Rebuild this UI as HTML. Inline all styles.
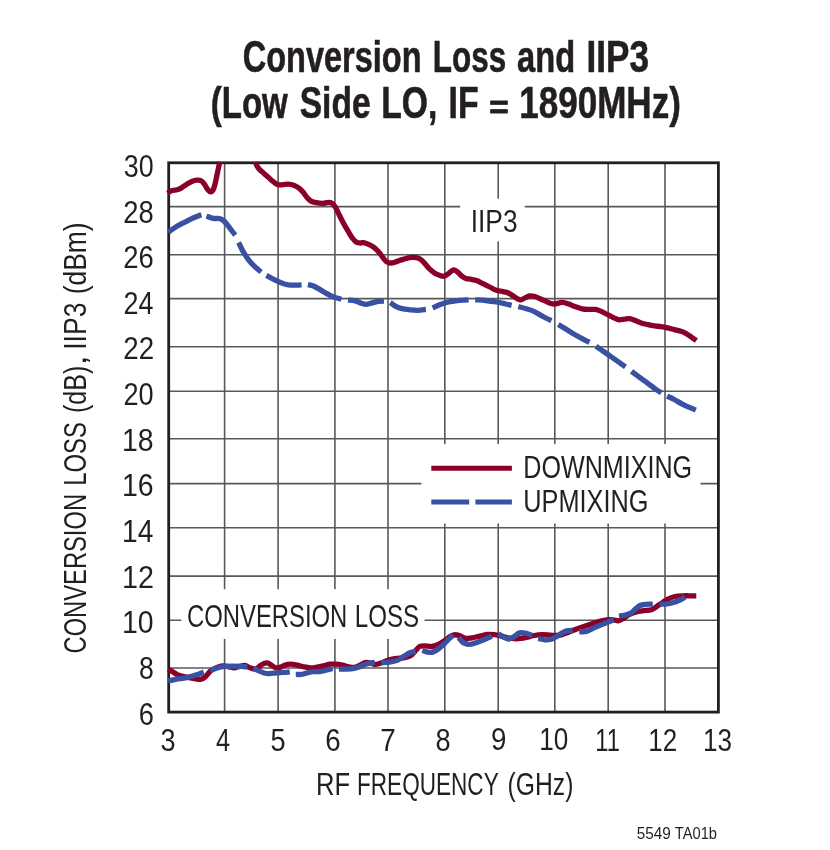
<!DOCTYPE html>
<html lang="en"><head><meta charset="utf-8"><title>Conversion Loss and IIP3</title>
<style>html,body{margin:0;padding:0;background:#fff}body{width:830px;height:850px;overflow:hidden}svg{display:block}text{font-family:"Liberation Sans",sans-serif;fill:#231f20}</style>
</head><body>
<svg width="830" height="850" viewBox="0 0 830 850">
<rect id="bg" width="830" height="850" fill="#fff"/>
<defs><clipPath id="plotclip"><rect x="164.3" y="161.4" width="552.9" height="552.1"/></clipPath></defs>
<g id="grid" stroke="#58595b" stroke-width="1.6" fill="none">
<path d="M224.6 162.8V712.1M278.1 162.8V712.1M334.9 162.8V712.1M388 162.8V712.1M444.8 162.8V712.1M498.2 162.8V712.1M554.8 162.8V712.1M608.2 162.8V712.1M665 162.8V712.1M168.7 206.6H718.4M168.7 254.7H718.4M168.7 298.6H718.4M168.7 346.8H718.4M168.7 391.2H718.4M168.7 438.8H718.4M168.7 483.6H718.4M168.7 527.7H718.4M168.7 576.1H718.4M168.7 620.3H718.4M168.7 668H718.4"/>
</g>
<g id="masks" fill="#fff">
<rect x="460.2" y="198.7" width="64.6" height="42.7"/>
<rect x="421.5" y="444.1" width="279" height="79.4"/>
<rect x="181.3" y="589.2" width="243.2" height="49.7"/>
</g>
<rect id="frame" x="168.7" y="162.8" width="549.7" height="549.3" fill="none" stroke="#231f20" stroke-width="2.8"/>
<g id="curves" fill="none" stroke-width="5.3" stroke-linejoin="round" clip-path="url(#plotclip)">
<path id="r1" stroke="#8b0029" d="M167.6 193.3C168.22 192.88 169.7 191.4 171.3 190.8C172.9 190.2 175.55 190.15 177.2 189.7C178.85 189.25 179.65 188.98 181.2 188.1C182.75 187.22 184.73 185.5 186.5 184.4C188.27 183.3 190.03 182.2 191.8 181.5C193.57 180.8 195.55 180.32 197.1 180.2C198.65 180.08 199.88 180.13 201.1 180.8C202.32 181.47 203.3 182.75 204.4 184.2C205.5 185.65 206.67 188.23 207.7 189.5C208.73 190.77 209.72 191.7 210.6 191.8C211.48 191.9 212.27 191.37 213 190.1C213.73 188.83 214.33 186.73 215 184.2C215.67 181.67 216.37 177.85 217 174.9C217.63 171.95 218.32 168.73 218.8 166.5C219.28 164.27 219.72 162.33 219.9 161.5M255.4 162C255.7 162.73 256.4 165.05 257.2 166.4C258 167.75 259.08 168.93 260.2 170.1C261.32 171.27 262.58 172.23 263.9 173.4C265.22 174.57 266.7 175.85 268.1 177.1C269.5 178.35 271 179.8 272.3 180.9C273.6 182 274.8 183.03 275.9 183.7C277 184.37 277.7 184.75 278.9 184.9C280.1 185.05 281.52 184.73 283.1 184.6C284.68 184.47 286.63 184 288.4 184.1C290.17 184.2 291.93 184.53 293.7 185.2C295.47 185.87 297.45 186.95 299 188.1C300.55 189.25 301.67 190.55 303 192.1C304.33 193.65 305.67 195.9 307 197.4C308.33 198.9 309.45 200.22 311 201.1C312.55 201.98 314.32 202.32 316.3 202.7C318.28 203.08 320.92 203.45 322.9 203.4C324.88 203.35 326.65 202.4 328.2 202.4C329.75 202.4 330.98 202.57 332.2 203.4C333.42 204.23 334.4 205.63 335.5 207.4C336.6 209.17 337.58 211.58 338.8 214C340.02 216.42 341.25 219.03 342.8 221.9C344.35 224.77 346.45 228.43 348.1 231.2C349.75 233.97 351.3 236.67 352.7 238.5C354.1 240.33 355.28 241.45 356.5 242.2C357.72 242.95 358.87 242.92 360 243C361.13 243.08 361.87 242.47 363.3 242.7C364.73 242.93 366.83 243.62 368.6 244.4C370.37 245.18 372.25 246.18 373.9 247.4C375.55 248.62 377.07 250.1 378.5 251.7C379.93 253.3 381.18 255.35 382.5 257C383.82 258.65 384.97 260.6 386.4 261.6C387.83 262.6 389.43 263 391.1 263C392.77 263 394.42 262.2 396.4 261.6C398.38 261 400.8 260.05 403 259.4C405.2 258.75 407.38 257.98 409.6 257.7C411.82 257.42 414.42 257.38 416.3 257.7C418.18 258.02 419.47 258.62 420.9 259.6C422.33 260.58 423.47 262.05 424.9 263.6C426.33 265.15 427.85 267.3 429.5 268.9C431.15 270.5 433.03 272.1 434.8 273.2C436.57 274.3 438.55 275 440.1 275.5C441.65 276 442.77 276.45 444.1 276.2C445.43 275.95 446.87 274.87 448.1 274C449.33 273.13 450.43 271.67 451.5 271C452.57 270.33 453.42 269.77 454.5 270C455.58 270.23 456.77 271.38 458 272.4C459.23 273.42 460.58 275.1 461.9 276.1C463.22 277.1 464.35 277.87 465.9 278.4C467.45 278.93 469.43 278.93 471.2 279.3C472.97 279.67 474.52 279.87 476.5 280.6C478.48 281.33 480.88 282.63 483.1 283.7C485.32 284.77 487.58 285.9 489.8 287C492.02 288.1 494.2 289.53 496.4 290.3C498.6 291.07 501.02 291.15 503 291.6C504.98 292.05 506.53 292.22 508.3 293C510.07 293.78 512.05 295.32 513.6 296.3C515.15 297.28 516.38 298.32 517.6 298.9C518.82 299.48 519.58 300.02 520.9 299.8C522.22 299.58 524.07 298.25 525.5 297.6C526.93 296.95 528.05 296.12 529.5 295.9C530.95 295.68 532.43 295.83 534.2 296.3C535.97 296.77 538 297.78 540.1 298.7C542.2 299.62 545.1 301.05 546.8 301.8C548.5 302.55 549.05 302.82 550.3 303.2C551.55 303.58 552.75 304.17 554.3 304.1C555.85 304.03 558.05 303.07 559.6 302.8C561.15 302.53 562.05 302.28 563.6 302.5C565.15 302.72 566.92 303.38 568.9 304.1C570.88 304.82 573.3 306.02 575.5 306.8C577.7 307.58 579.9 308.37 582.1 308.8C584.3 309.23 586.48 309.3 588.7 309.4C590.92 309.5 593.4 309.12 595.4 309.4C597.4 309.68 598.72 310.25 600.7 311.1C602.68 311.95 605.1 313.38 607.3 314.5C609.5 315.62 611.92 316.92 613.9 317.8C615.88 318.68 617.43 319.58 619.2 319.8C620.97 320.02 622.72 319.3 624.5 319.1C626.28 318.9 628.22 318.4 629.9 318.6C631.58 318.8 632.72 319.58 634.6 320.3C636.48 321.02 639 322.18 641.2 322.9C643.4 323.62 645.58 324.1 647.8 324.6C650.02 325.1 652.28 325.57 654.5 325.9C656.72 326.23 658.9 326.27 661.1 326.6C663.3 326.93 665.5 327.4 667.7 327.9C669.9 328.4 672.32 329.1 674.3 329.6C676.28 330.1 677.83 330.37 679.6 330.9C681.37 331.43 683.13 331.92 684.9 332.8C686.67 333.68 688.3 334.88 690.2 336.2C692.1 337.52 695.28 339.95 696.3 340.7"/>
<path id="b1" stroke="#3951a3" d="M168.3 232.2C169.13 231.6 171.37 229.87 173.3 228.6C175.23 227.33 177.7 225.82 179.9 224.6C182.1 223.38 184.3 222.4 186.5 221.3C188.7 220.2 190.88 219 193.1 218C195.32 217 198.42 215.83 199.8 215.3C201.18 214.77 201.13 214.88 201.4 214.8M206.4 216.2C206.62 216.27 206.6 216.23 207.7 216.6C208.8 216.97 211.02 218.07 213 218.4C214.98 218.73 217.83 218.23 219.6 218.6C221.37 218.97 222.27 219.5 223.6 220.6C224.93 221.7 226.27 223.55 227.6 225.2C228.93 226.85 230.32 228.83 231.6 230.5C232.88 232.17 234.68 234.42 235.3 235.2M238.6 242.5C239.38 244.05 241.63 248.92 243.3 251.8C244.97 254.68 246.73 257.37 248.6 259.8C250.47 262.23 252.42 264.37 254.5 266.4C256.58 268.43 260 271.07 261.1 272M266.4 275.4C267.62 276.07 271.15 278.13 273.7 279.4C276.25 280.67 279.27 282.08 281.7 283C284.13 283.92 285.87 284.53 288.3 284.9C290.73 285.27 294.08 285.2 296.3 285.2C298.52 285.2 300.72 284.95 301.6 284.9M307.9 284.7C308.83 284.92 311.47 285.18 313.5 286C315.53 286.82 317.88 288.33 320.1 289.6C322.32 290.87 324.58 292.38 326.8 293.6C329.02 294.82 331.82 296.2 333.4 296.9C334.98 297.6 334.97 297.4 336.3 297.8C337.63 298.2 340.55 299.05 341.4 299.3M348 300.1C349.18 300.23 352.88 300.38 355.1 300.9C357.32 301.42 359.48 302.63 361.3 303.2C363.12 303.77 364.17 304.37 366 304.3C367.83 304.23 370.2 303.28 372.3 302.8C374.4 302.32 376.65 301.68 378.6 301.4C380.55 301.12 383.1 301.15 384 301.1M390.3 302.5C391.22 303.15 393.85 305.37 395.8 306.4C397.75 307.43 399.65 308.13 402 308.7C404.35 309.27 407.28 309.53 409.9 309.8C412.52 310.07 415.03 310.35 417.7 310.3C420.37 310.25 424.53 309.63 425.9 309.5M432.6 307.9C433.77 307.38 437.12 305.75 439.6 304.8C442.08 303.85 444.88 302.85 447.5 302.2C450.12 301.55 453.22 301.2 455.3 300.9C457.38 300.6 457.78 300.58 460 300.4C462.22 300.22 467.17 299.9 468.6 299.8M475.2 299.8C476.97 299.92 482.27 300.13 485.8 300.5C489.33 300.87 493.08 301.42 496.4 302C499.72 302.58 503.17 303.45 505.7 304C508.23 304.55 510.62 305.08 511.6 305.3M518.3 306.6C519.5 306.92 523.18 307.83 525.5 308.5C527.82 309.17 529.77 309.55 532.2 310.6C534.63 311.65 537.67 313.48 540.1 314.8C542.53 316.12 544.9 317.53 546.8 318.5C548.7 319.47 550.72 320.25 551.5 320.6M558.3 324.4C559.62 325.22 563.55 327.65 566.2 329.3C568.85 330.95 571.55 332.75 574.2 334.3C576.85 335.85 579.57 337.27 582.1 338.6C584.63 339.93 588.18 341.68 589.4 342.3M596 346.3C597.22 347.13 600.75 349.53 603.3 351.3C605.85 353.07 608.65 355.05 611.3 356.9C613.95 358.75 616.83 360.73 619.2 362.4C621.57 364.07 624.45 366.15 625.5 366.9M631.5 371.4C632.9 372.43 637.18 375.62 639.9 377.6C642.62 379.58 645.15 381.35 647.8 383.3C650.45 385.25 653.53 387.72 655.8 389.3C658.07 390.88 660.47 392.22 661.4 392.8M667.1 396.1C668.3 396.67 671.77 398.17 674.3 399.5C676.83 400.83 679.87 402.82 682.3 404.1C684.73 405.38 686.65 406.2 688.9 407.2C691.15 408.2 694.65 409.62 695.8 410.1"/>
<path id="r2" stroke="#8b0029" d="M167.9 669.5C168.57 669.8 170.35 670.45 171.9 671.3C173.45 672.15 175.43 673.75 177.2 674.6C178.97 675.45 180.5 675.9 182.5 676.4C184.5 676.9 186.98 677.17 189.2 677.6C191.42 678.03 193.82 678.72 195.8 679C197.78 679.28 199.45 679.73 201.1 679.3C202.75 678.87 204.15 677.77 205.7 676.4C207.25 675.03 208.73 672.53 210.4 671.1C212.07 669.67 213.72 668.68 215.7 667.8C217.68 666.92 220.1 665.97 222.3 665.8C224.5 665.63 226.92 666.47 228.9 666.8C230.88 667.13 232.43 667.87 234.2 667.8C235.97 667.73 237.73 666.78 239.5 666.4C241.27 666.02 243.03 665.27 244.8 665.5C246.57 665.73 248.33 667.2 250.1 667.8C251.87 668.4 253.7 669.45 255.4 669.1C257.1 668.75 258.87 666.65 260.3 665.7C261.73 664.75 262.72 663.83 264 663.4C265.28 662.97 266.68 662.75 268 663.1C269.32 663.45 270.58 664.72 271.9 665.5C273.22 666.28 274.57 667.48 275.9 667.8C277.23 668.12 278.35 667.85 279.9 667.4C281.45 666.95 283.43 665.63 285.2 665.1C286.97 664.57 288.52 664.2 290.5 664.2C292.48 664.2 294.9 664.67 297.1 665.1C299.3 665.53 301.48 666.35 303.7 666.8C305.92 667.25 308.18 667.75 310.4 667.8C312.62 667.85 314.8 667.43 317 667.1C319.2 666.77 321.4 666.28 323.6 665.8C325.8 665.32 328.22 664.47 330.2 664.2C332.18 663.93 333.5 664.05 335.5 664.2C337.5 664.35 339.98 664.67 342.2 665.1C344.42 665.53 346.82 666.42 348.8 666.8C350.78 667.18 352.33 667.62 354.1 667.4C355.87 667.18 357.58 666.3 359.4 665.5C361.22 664.7 363.13 663 365 662.6C366.87 662.2 368.78 662.8 370.6 663.1C372.42 663.4 373.92 664.52 375.9 664.4C377.88 664.28 380.28 663.17 382.5 662.4C384.72 661.63 386.77 660.47 389.2 659.8C391.63 659.13 394.68 658.73 397.1 658.4C399.52 658.07 401.48 658.23 403.7 657.8C405.92 657.37 408.4 657.02 410.4 655.8C412.4 654.58 414.17 652.05 415.7 650.5C417.23 648.95 418.07 647.28 419.6 646.5C421.13 645.72 422.9 645.8 424.9 645.8C426.9 645.8 429.38 646.72 431.6 646.5C433.82 646.28 436 645.5 438.2 644.5C440.4 643.5 442.82 641.82 444.8 640.5C446.78 639.18 448.55 637.55 450.1 636.6C451.65 635.65 452.55 634.97 454.1 634.8C455.65 634.63 457.53 635 459.4 635.6C461.27 636.2 463.22 638.03 465.3 638.4C467.38 638.77 469.47 638.18 471.9 637.8C474.33 637.42 477.25 636.65 479.9 636.1C482.55 635.55 485.37 634.73 487.8 634.5C490.23 634.27 492.28 634.43 494.5 634.7C496.72 634.97 498.9 635.58 501.1 636.1C503.3 636.62 505.5 637.37 507.7 637.8C509.9 638.23 512.08 638.6 514.3 638.7C516.52 638.8 518.78 638.67 521 638.4C523.22 638.13 525.4 637.58 527.6 637.1C529.8 636.62 531.77 635.9 534.2 635.5C536.63 635.1 539.55 634.77 542.2 634.7C544.85 634.63 547.67 634.97 550.1 635.1C552.53 635.23 554.82 635.58 556.8 635.5C558.78 635.42 560.13 635.12 562 634.6C563.87 634.08 565.68 633.28 568 632.4C570.32 631.52 573.25 630.3 575.9 629.3C578.55 628.3 581.25 627.33 583.9 626.4C586.55 625.47 589.15 624.53 591.8 623.7C594.45 622.87 597.37 622.05 599.8 621.4C602.23 620.75 604.2 620.07 606.4 619.8C608.6 619.53 611.02 619.63 613 619.8C614.98 619.97 616.53 621.03 618.3 620.8C620.07 620.57 621.83 619.42 623.6 618.4C625.37 617.38 626.92 615.75 628.9 614.7C630.88 613.65 633.07 612.77 635.5 612.1C637.93 611.43 640.83 611.08 643.5 610.7C646.17 610.32 649.28 610.5 651.5 609.8C653.72 609.1 654.82 607.82 656.8 606.5C658.78 605.18 661.47 603.17 663.4 601.9C665.33 600.63 666.45 599.8 668.4 598.9C670.35 598 672.67 597.02 675.1 596.5C677.53 595.98 680.58 595.92 683 595.8C685.42 595.68 687.38 595.8 689.6 595.8C691.82 595.8 695.18 595.8 696.3 595.8"/>
<path id="b2" stroke="#3951a3" d="M168.2 681C169.48 680.72 172.85 679.85 175.9 679.3C178.95 678.75 183.18 678.4 186.5 677.7C189.82 677 192.93 676.03 195.8 675.1C198.67 674.17 202.38 672.6 203.7 672.1M210.4 670.4C211.5 670 214.58 668.67 217 668C219.42 667.33 222.25 666.72 224.9 666.4C227.55 666.08 230.25 666.1 232.9 666.1C235.55 666.1 238.42 666.23 240.8 666.4C243.18 666.57 246.13 666.98 247.2 667.1M253.4 668.4C254.4 668.85 257.2 670.25 259.4 671.1C261.6 671.95 264.28 673.17 266.6 673.5C268.92 673.83 270.65 673.28 273.3 673.1C275.95 672.92 279.75 672.57 282.5 672.4C285.25 672.23 288.58 672.15 289.8 672.1M295.8 674.4C296.68 674.4 299.33 674.62 301.1 674.4C302.87 674.18 304.42 673.55 306.4 673.1C308.38 672.65 310.57 671.98 313 671.7C315.43 671.42 318.57 671.72 321 671.4C323.43 671.08 325.67 670.3 327.6 669.8C329.53 669.3 331.77 668.63 332.6 668.4M338.9 669.2C340.1 669.18 343.57 669.23 346.1 669.1C348.63 668.97 351.67 668.85 354.1 668.4C356.53 667.95 358.62 667.13 360.7 666.4C362.78 665.67 364.25 664.67 366.6 664C368.95 663.33 373.43 662.67 374.8 662.4M381.2 662.7C382.53 662.6 386.55 662.48 389.2 662.1C391.85 661.72 394.68 661.35 397.1 660.4C399.52 659.45 401.48 657.72 403.7 656.4C405.92 655.08 408.4 653.38 410.4 652.5C412.4 651.62 414.82 651.33 415.7 651.1M422.3 650.5C423.18 650.77 425.83 651.83 427.6 652.1C429.37 652.37 431.13 652.58 432.9 652.1C434.67 651.62 436.22 650.68 438.2 649.2C440.18 647.72 442.82 645.08 444.8 643.2C446.78 641.32 448.67 639.23 450.1 637.9C451.53 636.57 452.85 635.65 453.4 635.2M458.7 637.5C459.08 638 460.12 639.58 461 640.5C461.88 641.42 462.62 642.35 464 643C465.38 643.65 467.32 644.45 469.3 644.4C471.28 644.35 473.47 643.47 475.9 642.7C478.33 641.93 481.25 640.9 483.9 639.8C486.55 638.7 490.48 636.72 491.8 636.1M498.4 633.8C499.28 634.35 501.93 636.22 503.7 637.1C505.47 637.98 507.23 639.22 509 639.1C510.77 638.98 512.53 637.43 514.3 636.4C516.07 635.37 517.6 633.4 519.6 632.9C521.6 632.4 524.2 632.97 526.3 633.4C528.4 633.83 531.22 635.15 532.2 635.5M538.2 638.4C539.3 638.63 542.6 639.68 544.8 639.8C547 639.92 549.4 639.67 551.4 639.1C553.4 638.53 555.02 637.43 556.8 636.4C558.58 635.37 560.48 633.83 562.1 632.9C563.72 631.97 564.75 631.22 566.5 630.8C568.25 630.38 571.58 630.47 572.6 630.4M579.2 631.7C580.42 631.65 583.95 632.07 586.5 631.4C589.05 630.73 591.85 628.87 594.5 627.7C597.15 626.53 599.98 625.4 602.4 624.4C604.82 623.4 607.12 622.47 609 621.7C610.88 620.93 612.92 620.12 613.7 619.8M619 616.1C620.22 615.87 624.3 615.22 626.3 614.7C628.3 614.18 629.5 613.93 631 613C632.5 612.07 633.8 610.35 635.3 609.1C636.8 607.85 638.3 606.3 640 605.5C641.7 604.7 643.37 604.52 645.5 604.3C647.63 604.08 651.58 604.22 652.8 604.2M659.5 604.2C660.77 604.13 664.73 604.08 667.1 603.8C669.47 603.52 671.48 603.17 673.7 602.5C675.92 601.83 678.52 600.68 680.4 599.8C682.28 598.92 684.23 597.63 685 597.2"/>
</g>
<g id="legend" fill="none" stroke-width="5">
<path stroke="#8b0029" d="M431.3 468.2H511.9"/>
<path stroke="#3951a3" d="M431.3 501.9H469.2M475.4 501.9H511.9"/>
</g>
<g id="texts">
<text id="t1" y="71.8" font-size="43.5" font-weight="bold" stroke="#231f20" stroke-width="0.6" stroke-linejoin="round"><tspan id="t1_0" x="242.75" textLength="178.8" lengthAdjust="spacingAndGlyphs">Conversion</tspan> <tspan id="t1_1" x="432.75" textLength="73.37" lengthAdjust="spacingAndGlyphs">Loss</tspan> <tspan id="t1_2" x="517" textLength="58.12" lengthAdjust="spacingAndGlyphs">and</tspan> <tspan id="t1_3" x="586.5" textLength="62.41" lengthAdjust="spacingAndGlyphs">IIP3</tspan></text>
<text id="t2" y="117.8" font-size="43.5" font-weight="bold" stroke="#231f20" stroke-width="0.6" stroke-linejoin="round"><tspan id="t2_0" x="210.75" textLength="77.02" lengthAdjust="spacingAndGlyphs">(Low</tspan> <tspan id="t2_1" x="299.75" textLength="70.79" lengthAdjust="spacingAndGlyphs">Side</tspan> <tspan id="t2_2" x="381.25" textLength="56.04" lengthAdjust="spacingAndGlyphs">LO,</tspan> <tspan id="t2_3" x="448.5" textLength="30.06" lengthAdjust="spacingAndGlyphs">IF</tspan></text>
<text id="t2e" y="0" font-size="43.5" transform="translate(0 117.9) scale(1 0.72)" font-weight="bold" stroke="#231f20" stroke-width="1.1" stroke-linejoin="round"><tspan id="t2e_0" x="489.25" textLength="19.45" lengthAdjust="spacingAndGlyphs">=</tspan></text>
<text id="t2n" y="117.8" font-size="43.5" font-weight="bold" stroke="#231f20" stroke-width="0.6" stroke-linejoin="round"><tspan id="t2n_0" x="519.25" textLength="161.58" lengthAdjust="spacingAndGlyphs">1890MHz)</tspan></text>
<text id="y30" y="177.2" font-size="31"><tspan id="y30_0" x="123.75" textLength="29.89" lengthAdjust="spacingAndGlyphs">30</tspan></text>
<text id="y28" y="222.8" font-size="31"><tspan id="y28_0" x="123.25" textLength="30.47" lengthAdjust="spacingAndGlyphs">28</tspan></text>
<text id="y26" y="268.4" font-size="31"><tspan id="y26_0" x="123.25" textLength="30.47" lengthAdjust="spacingAndGlyphs">26</tspan></text>
<text id="y24" y="314" font-size="31"><tspan id="y24_0" x="123.5" textLength="29.89" lengthAdjust="spacingAndGlyphs">24</tspan></text>
<text id="y22" y="359.1" font-size="31"><tspan id="y22_0" x="123.25" textLength="30.77" lengthAdjust="spacingAndGlyphs">22</tspan></text>
<text id="y20" y="405.2" font-size="31"><tspan id="y20_0" x="123.5" textLength="30.18" lengthAdjust="spacingAndGlyphs">20</tspan></text>
<text id="y18" y="450.8" font-size="31"><tspan id="y18_0" x="122" textLength="31.64" lengthAdjust="spacingAndGlyphs">18</tspan></text>
<text id="y16" y="496.4" font-size="31"><tspan id="y16_0" x="122" textLength="31.64" lengthAdjust="spacingAndGlyphs">16</tspan></text>
<text id="y14" y="542" font-size="31"><tspan id="y14_0" x="122" textLength="31.3" lengthAdjust="spacingAndGlyphs">14</tspan></text>
<text id="y12" y="587.6" font-size="31"><tspan id="y12_0" x="122" textLength="31.92" lengthAdjust="spacingAndGlyphs">12</tspan></text>
<text id="y10" y="633.2" font-size="31"><tspan id="y10_0" x="122" textLength="31.61" lengthAdjust="spacingAndGlyphs">10</tspan></text>
<text id="y8" y="678.8" font-size="31"><tspan id="y8_0" x="139" textLength="14.83" lengthAdjust="spacingAndGlyphs">8</tspan></text>
<text id="y6" y="724.6" font-size="31"><tspan id="y6_0" x="138.75" textLength="15.18" lengthAdjust="spacingAndGlyphs">6</tspan></text>
<text id="x3" y="751.1" font-size="31"><tspan id="x3_0" x="160.5" textLength="15.07" lengthAdjust="spacingAndGlyphs">3</tspan></text>
<text id="x4" y="751.1" font-size="31"><tspan id="x4_0" x="216" textLength="14.14" lengthAdjust="spacingAndGlyphs">4</tspan></text>
<text id="x5" y="751.1" font-size="31"><tspan id="x5_0" x="270.5" textLength="15.08" lengthAdjust="spacingAndGlyphs">5</tspan></text>
<text id="x6" y="751.1" font-size="31"><tspan id="x6_0" x="325.25" textLength="15.42" lengthAdjust="spacingAndGlyphs">6</tspan></text>
<text id="x7" y="751.1" font-size="31"><tspan id="x7_0" x="380.25" textLength="15.49" lengthAdjust="spacingAndGlyphs">7</tspan></text>
<text id="x8" y="751.1" font-size="31"><tspan id="x8_0" x="435.5" textLength="15.12" lengthAdjust="spacingAndGlyphs">8</tspan></text>
<text id="x9" y="749.9" font-size="31"><tspan id="x9_0" x="491" textLength="15.43" lengthAdjust="spacingAndGlyphs">9</tspan></text>
<text id="x10" y="749.9" font-size="31"><tspan id="x10_0" x="539.25" textLength="29.05" lengthAdjust="spacingAndGlyphs">10</tspan></text>
<text id="x11" y="751.1" font-size="31"><tspan id="x11_0" x="595.25" textLength="24.61" lengthAdjust="spacingAndGlyphs">11</tspan></text>
<text id="x12" y="751.1" font-size="31"><tspan id="x12_0" x="648.25" textLength="28.86" lengthAdjust="spacingAndGlyphs">12</tspan></text>
<text id="x13" y="751.1" font-size="31"><tspan id="x13_0" x="703" textLength="29.08" lengthAdjust="spacingAndGlyphs">13</tspan></text>
<text id="xl" y="795.3" font-size="31"><tspan id="xl_0" x="316" textLength="34.05" lengthAdjust="spacingAndGlyphs">RF</tspan> <tspan id="xl_1" x="357" textLength="141.28" lengthAdjust="spacingAndGlyphs">FREQUENCY</tspan> <tspan id="xl_2" x="507.5" textLength="65.89" lengthAdjust="spacingAndGlyphs">(GHz)</tspan></text>
<text id="yl" y="652.4" font-size="31" transform="rotate(-90 86.3 652.4)"><tspan id="yl_0" x="85.2" textLength="159.56" lengthAdjust="spacingAndGlyphs">CONVERSION</tspan> <tspan id="yl_1" x="252.95" textLength="63.64" lengthAdjust="spacingAndGlyphs">LOSS</tspan> <tspan id="yl_2" x="325.7" textLength="47.49" lengthAdjust="spacingAndGlyphs">(dB)</tspan><tspan id="yl_3" x="373.45" textLength="9.83" lengthAdjust="spacingAndGlyphs">,</tspan> <tspan id="yl_4" x="388.95" textLength="47.28" lengthAdjust="spacingAndGlyphs">IIP3</tspan> <tspan id="yl_5" x="444.45" textLength="71.91" lengthAdjust="spacingAndGlyphs">(dBm)</tspan></text>
<text id="l1" y="231.9" font-size="31"><tspan id="l1_0" x="470.75" textLength="46.77" lengthAdjust="spacingAndGlyphs">IIP3</tspan></text>
<text id="l2" y="626.6" font-size="31"><tspan id="l2_0" x="187" textLength="160.31" lengthAdjust="spacingAndGlyphs">CONVERSION</tspan> <tspan id="l2_1" x="354.75" textLength="64.4" lengthAdjust="spacingAndGlyphs">LOSS</tspan></text>
<text id="l3" y="477.9" font-size="31"><tspan id="l3_0" x="523.25" textLength="168.84" lengthAdjust="spacingAndGlyphs">DOWNMIXING</tspan></text>
<text id="l4" y="511.9" font-size="31"><tspan id="l4_0" x="523.25" textLength="125.12" lengthAdjust="spacingAndGlyphs">UPMIXING</tspan></text>
<text id="fn" y="838.9" font-size="17"><tspan id="fn_0" x="636.75" textLength="34.05" lengthAdjust="spacingAndGlyphs">5549</tspan> <tspan id="fn_1" x="674.75" textLength="42.27" lengthAdjust="spacingAndGlyphs">TA01b</tspan></text>
</g>
</svg>
</body></html>
